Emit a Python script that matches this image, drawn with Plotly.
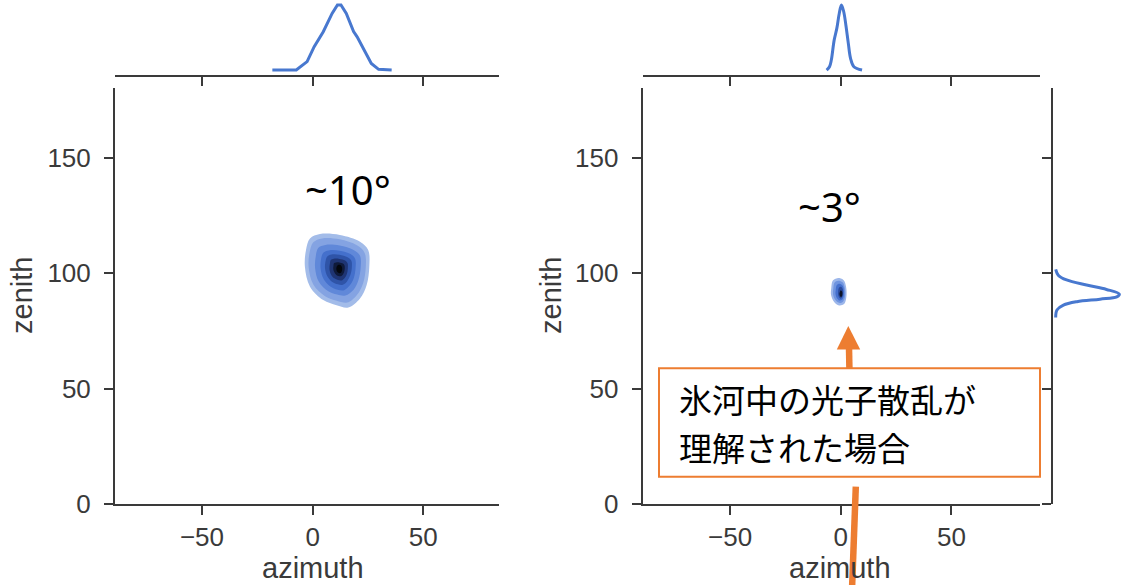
import plotly.graph_objects as go

W, H = 1127, 585

# ---- marginal densities (normalised to their peaks) ----
left_az_grid = [-18.2, -7.4, -2.5, 0.7, 4.8, 8.8, 11.2, 12.8, 15.2, 18.5, 20.1, 23.3, 26.5, 29.8, 35.7]
left_az_density = [0.0, 0.0, 0.13, 0.36, 0.59, 0.87, 1.0, 1.0, 0.87, 0.59, 0.51, 0.31, 0.10, 0.01, 0.0]

right_az_grid = [-6.4, -5.1, -4.3, -3.0, -1.8, -0.7, 0.3, 1.3, 2.3, 3.4, 4.4, 5.9, 9.6]
right_az_density = [0.0, 0.05, 0.15, 0.46, 0.64, 0.87, 1.0, 0.90, 0.69, 0.41, 0.18, 0.05, 0.0]

right_zen_grid = [101.6, 99.1, 97.0, 94.8, 92.9, 90.9, 89.7, 88.7, 87.6, 86.1, 84.0, 80.8]
right_zen_density = [0.0, 0.04, 0.17, 0.48, 0.79, 0.99, 0.95, 0.69, 0.33, 0.12, 0.02, 0.0]

# ---- joint KDE contour outlines, outer level first ----
left_levels_az = [
    [-1.2, 3.3, 12.3, 21.4, 25.1, 25.6, 24.4, 21.4, 16.1, 10.8, 4.8, -1.2, -3.5, -3.0],
    [0.3, 4.3, 12.2, 20.0, 23.5, 24.0, 22.8, 20.0, 15.6, 10.9, 5.6, 0.3, -1.8, -1.4],
    [2.5, 5.8, 12.2, 18.5, 21.4, 21.7, 20.7, 18.5, 14.8, 11.1, 6.9, 2.8, 1.1, 1.4],
    [4.8, 7.3, 12.1, 17.1, 19.2, 19.4, 18.6, 16.9, 14.2, 11.3, 8.0, 5.0, 3.6, 3.8],
    [6.6, 8.5, 12.1, 15.8, 17.5, 17.7, 17.0, 15.6, 13.6, 11.4, 8.9, 6.7, 5.6, 5.8],
    [8.2, 9.6, 12.1, 14.7, 15.8, 15.9, 15.5, 14.5, 13.0, 11.5, 9.8, 8.3, 7.6, 7.8],
    [9.7, 10.6, 12.1, 13.7, 14.4, 14.5, 14.2, 13.6, 12.7, 11.7, 10.7, 9.8, 9.3, 9.4],
    [11.0, 11.8, 12.9, 13.3, 13.2, 12.6, 11.6, 10.9, 10.7],
]
left_levels_zen = [
    [115.0, 116.9, 116.5, 113.6, 110.0, 102.7, 94.8, 89.0, 85.1, 86.1, 88.3, 94.1, 102.7, 110.0],
    [113.3, 115.0, 114.6, 112.0, 108.7, 102.5, 95.6, 90.5, 87.2, 88.0, 90.0, 95.0, 102.5, 108.8],
    [110.9, 112.2, 111.9, 110.0, 107.5, 102.4, 97.0, 92.8, 90.3, 90.7, 92.2, 96.2, 102.2, 107.2],
    [108.8, 109.8, 109.7, 108.2, 106.2, 102.3, 97.9, 94.8, 92.6, 92.8, 94.2, 97.3, 102.0, 106.0],
    [107.2, 108.0, 107.9, 106.8, 105.3, 102.3, 99.0, 96.5, 94.9, 95.1, 96.1, 98.5, 102.0, 105.0],
    [105.6, 106.2, 106.1, 105.4, 104.2, 102.0, 99.7, 97.9, 96.8, 97.0, 97.7, 99.4, 101.9, 104.0],
    [104.3, 104.6, 104.6, 104.1, 103.3, 101.9, 100.4, 99.3, 98.6, 98.7, 99.2, 100.3, 101.8, 103.1],
    [103.1, 103.6, 103.2, 102.2, 100.9, 100.0, 100.1, 100.9, 102.0],
]
left_level_colors = ["#a3bce9", "#84a3e2", "#6088d9", "#4470cc", "#2f54a8", "#1f3574", "#0f1a3a", "#03060d"]

right_levels_az = [
    [-4.3, -3.6, -1.5, 1.2, 2.4, 2.5, 1.5, -0.8, -3.0, -4.4],
    [-3.4, -2.8, -1.2, 0.8, 1.8, 1.9, 1.0, -0.8, -2.5, -3.5],
    [-2.3, -1.8, -0.6, 0.8, 1.4, 1.3, 0.6, -0.6, -1.8, -2.4],
    [-1.2, -0.8, 0.2, 0.9, 1.0, 0.7, 0.0, -0.7, -1.2],
    [-0.5, 0.0, 0.6, 0.7, 0.3, -0.3, -0.6],
]
right_levels_zen = [
    [93.5, 96.8, 97.8, 97.0, 94.0, 89.5, 86.6, 86.0, 87.5, 90.5],
    [93.2, 95.9, 96.7, 96.0, 93.5, 89.8, 87.6, 87.1, 88.4, 90.8],
    [92.6, 94.8, 95.4, 94.6, 92.6, 89.9, 88.4, 88.1, 89.2, 91.0],
    [92.0, 93.6, 94.0, 93.0, 91.3, 89.6, 88.9, 89.4, 90.6],
    [91.6, 92.6, 92.0, 90.6, 89.7, 89.9, 90.7],
]
right_level_colors = ["#9db7ea", "#6f94df", "#4570cd", "#2a4a9c", "#0b1228"]

# ---- axis settings ----
az_ticks = [-50, 0, 50]
zen_ticks = [0, 50, 100, 150]
left_az_range = [-89.3, 84.2]
right_az_range = [-89.5, 90.0]
zen_range = [0, 180]

LINE_BLUE = "#4878cf"
AX_COLOR = "#3a3a3a"
ORANGE = "#ed7d31"


def px(x):
    return x / W


def py(y):
    return 1 - y / H


fig = go.Figure()

# joint KDE levels
for az, zen, col in zip(left_levels_az, left_levels_zen, left_level_colors):
    fig.add_trace(go.Scatter(x=az + [az[0]], y=zen + [zen[0]], mode="lines", fill="toself",
                             fillcolor=col, line=dict(width=0, color=col, shape="spline"),
                             xaxis="x", yaxis="y", hoverinfo="skip"))
for az, zen, col in zip(right_levels_az, right_levels_zen, right_level_colors):
    fig.add_trace(go.Scatter(x=az + [az[0]], y=zen + [zen[0]], mode="lines", fill="toself",
                             fillcolor=col, line=dict(width=0, color=col, shape="spline"),
                             xaxis="x2", yaxis="y2", hoverinfo="skip"))

# marginal curves
fig.add_trace(go.Scatter(x=left_az_grid, y=left_az_density, mode="lines",
                         line=dict(color=LINE_BLUE, width=3), xaxis="x3", yaxis="y3"))
fig.add_trace(go.Scatter(x=right_az_grid, y=right_az_density, mode="lines",
                         line=dict(color=LINE_BLUE, width=3, shape="spline"), xaxis="x4", yaxis="y4"))
fig.add_trace(go.Scatter(x=right_zen_density, y=right_zen_grid, mode="lines",
                         line=dict(color=LINE_BLUE, width=3, shape="spline"), xaxis="x5", yaxis="y5"))

tick_font = dict(family="Liberation Sans, Arial, sans-serif", size=26, color=AX_COLOR)
common = dict(showgrid=False, zeroline=False, showline=True, linecolor=AX_COLOR, linewidth=2,
              ticks="outside", ticklen=9, tickwidth=2, tickcolor=AX_COLOR, tickfont=tick_font,
              automargin=False)

left_dom = [px(115), px(499)]
right_dom = [px(642.7), px(1040)]
joint_ydom = [py(504), py(88.3)]
top_ydom = [py(74.7), 1.0]

fig.update_layout(
    width=W, height=H,
    margin=dict(l=0, r=0, t=0, b=0, pad=0),
    paper_bgcolor="white", plot_bgcolor="white",
    showlegend=False,
    xaxis=dict(domain=left_dom, range=left_az_range, anchor="y", tickvals=az_ticks,
               ticklabelstandoff=0, **common),
    yaxis=dict(domain=joint_ydom, range=zen_range, anchor="x", tickvals=zen_ticks,
               ticklabelstandoff=8, **common),
    xaxis2=dict(domain=right_dom, range=right_az_range, anchor="y2", tickvals=az_ticks,
                ticklabelstandoff=0, **common),
    yaxis2=dict(domain=joint_ydom, range=zen_range, anchor="x2", tickvals=zen_ticks,
                ticklabelstandoff=8, **common),
    xaxis3=dict(domain=left_dom, range=left_az_range, anchor="y3", tickvals=az_ticks,
                showticklabels=False, **common),
    yaxis3=dict(domain=top_ydom, range=[-0.072, 1.077], anchor="x3", visible=False),
    xaxis4=dict(domain=right_dom, range=right_az_range, anchor="y4", tickvals=az_ticks,
                showticklabels=False, **common),
    yaxis4=dict(domain=top_ydom, range=[-0.072, 1.077], anchor="x4", visible=False),
    xaxis5=dict(domain=[px(1053.3), 1.0], range=[-0.037, 1.109], anchor="y5", visible=False),
    yaxis5=dict(domain=joint_ydom, range=zen_range, anchor="x5", tickvals=zen_ticks,
                showticklabels=False, **common),
)

label_font = dict(family="Liberation Sans, Arial, sans-serif", size=29, color=AX_COLOR)
big_font = dict(family="Noto Sans, sans-serif", size=40, color="black")
jp_font = dict(family="Noto Sans CJK JP, sans-serif", size=33, color="black")

annotations = [
    dict(text="azimuth", x=px(312.5), y=0, xref="paper", yref="paper", borderpad=0,
         xanchor="center", yanchor="bottom", showarrow=False, font=label_font),
    dict(text="azimuth", x=px(840), y=0, xref="paper", yref="paper", borderpad=0,
         xanchor="center", yanchor="bottom", showarrow=False, font=label_font),
    dict(text="zenith", x=px(22), y=py(296), xref="paper", yref="paper", textangle=-90,
         xanchor="center", yanchor="middle", showarrow=False, font=label_font),
    dict(text="zenith", x=px(551), y=py(296), xref="paper", yref="paper", textangle=-90,
         xanchor="center", yanchor="middle", showarrow=False, font=label_font),
    dict(text="~10°", x=16.0, y=136.3, xref="x", yref="y", xanchor="center", yanchor="middle",
         showarrow=False, font=big_font),
    dict(text="~3°", x=-5.1, y=129.0, xref="x2", yref="y2", xanchor="center", yanchor="middle",
         showarrow=False, font=big_font),
    dict(text="氷河中の光子散乱が", x=px(678), y=py(399), xref="paper", yref="paper", borderpad=0,
         xanchor="left", yanchor="middle", showarrow=False, font=jp_font),
    dict(text="理解された場合", x=px(678), y=py(447.5), xref="paper", yref="paper", borderpad=0,
         xanchor="left", yanchor="middle", showarrow=False, font=jp_font),
]
fig.update_layout(annotations=annotations)

shapes = [
    # callout box
    dict(type="rect", xref="paper", yref="paper", x0=px(659), x1=px(1040), y0=py(476.7), y1=py(368.3),
         line=dict(color=ORANGE, width=2), fillcolor="white", layer="above"),
    # arrow shaft and head pointing at the narrow blob
    dict(type="line", xref="paper", yref="paper", x0=px(849.4), y0=py(368.3), x1=px(849.0), y1=py(347),
         line=dict(color=ORANGE, width=6.5), layer="above"),
    dict(type="path", xref="paper", yref="paper",
         path=f"M {px(848.3)} {py(326)} L {px(836.8)} {py(349.5)} L {px(860.2)} {py(349.5)} Z",
         fillcolor=ORANGE, line=dict(width=0), layer="above"),
    # arrow coming up from below
    dict(type="line", xref="paper", yref="paper", x0=px(855.8), y0=py(486.7), x1=px(851.8), y1=py(595),
         line=dict(color=ORANGE, width=6.5), layer="above"),
]
fig.update_layout(shapes=shapes)

fig.write_html("out.html")
